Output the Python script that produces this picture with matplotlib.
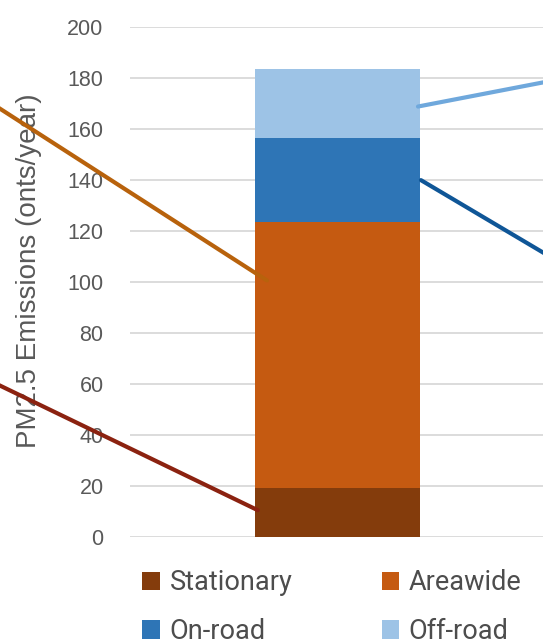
import matplotlib.pyplot as plt
from matplotlib.patches import Patch

# data
categories = ["Stationary", "Areawide", "On-road", "Off-road"]
values = [19.1, 104.5, 32.7, 27.2]
colors = ["#843C0C", "#C55A11", "#2E75B6", "#9DC3E6"]
line_colors = ["#8B2210", "#B8620C", "#0F5697", "#6FA8DC"]
yticks = [0, 20, 40, 60, 80, 100, 120, 140, 160, 180, 200]

fig = plt.figure(figsize=(5.43, 6.4), dpi=100)
ax = fig.add_axes([130 / 543, 103 / 640, 415 / 543, 510 / 640])

bottom = 0
for val, col in zip(values, colors):
    ax.bar(0, val, width=0.398, bottom=bottom, color=col, zorder=3)
    bottom += val

ax.set_xlim(-0.5, 0.5)
ax.set_ylim(0, 200)
ax.set_yticks(yticks)
ax.set_xticks([])
ax.yaxis.grid(True, color="#D9D9D9", linewidth=1.3, zorder=0)
for s in ax.spines.values():
    s.set_visible(False)
ax.tick_params(axis="y", length=0, pad=19, labelsize=15.5, labelcolor="#595959")
for lab in ax.get_yticklabels():
    lab.set_family("Liberation Sans")
ax.set_ylabel("PM2.5 Emissions (onts/year)", fontsize=20, color="#595959",
              family="Liberation Sans")
ax.yaxis.set_label_coords(-0.212, 0.523)

# leader lines from each segment (data-label callouts cut off at the edges)
anchor_x = [-0.192, -0.170, 0.201, 0.194]
anchor_frac = [0.55, 0.78, 0.5, 0.46]
offsets = [(-300, 145), (-300, 193), (140, -83), (140, 27)]
base = 0
for val, ax_x, frac, off, lc in zip(values, anchor_x, anchor_frac, offsets, line_colors):
    ax.annotate("", xy=(ax_x, base + val * frac), xytext=off, textcoords="offset pixels",
                arrowprops=dict(arrowstyle="-", color=lc, lw=3, shrinkA=0, shrinkB=0),
                annotation_clip=False, zorder=5)
    base += val

# legend filled row by row (matplotlib fills columns first)
order = [0, 2, 1, 3]
handles = [Patch(facecolor=colors[i], edgecolor="none") for i in order]
labels = [categories[i] for i in order]
leg = fig.legend(handles, labels, loc="upper left", bbox_to_anchor=(118 / 543, 1 - 545 / 640),
                 ncol=2, frameon=False, handlelength=0.65, handleheight=0.65,
                 handletextpad=0.35, columnspacing=3.3, labelspacing=0.8,
                 prop={"family": "Roboto", "size": 19.5})
for t in leg.get_texts():
    t.set_color("#4D4D4D")

fig.savefig("out.png", dpi=100)
